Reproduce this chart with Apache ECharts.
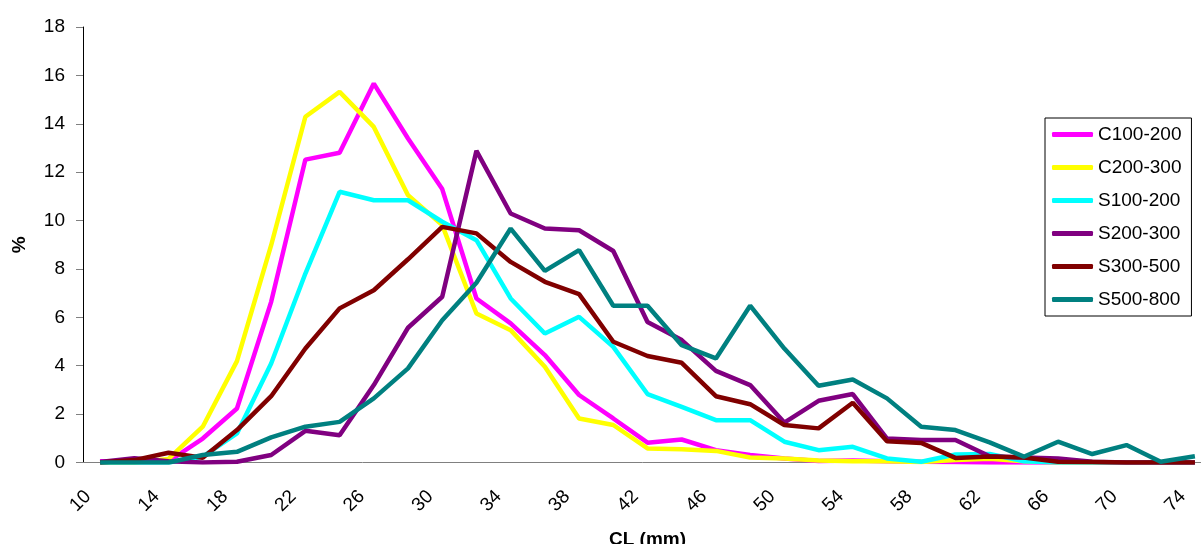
<!DOCTYPE html>
<html>
<head>
<meta charset="utf-8">
<script src="https://cdn.jsdelivr.net/npm/echarts@6/dist/echarts.min.js"></script>
<style>
  html, body { margin: 0; padding: 0; background: #fff; }
  #chart { width: 1201px; height: 544px; }
</style>
</head>
<body>
<div id="chart"></div>
<script>
// CL classes (mm)
var sizes = [10, 12, 14, 16, 18, 20, 22, 24, 26, 28, 30, 32, 34, 36, 38, 40, 42,
             44, 46, 48, 50, 52, 54, 56, 58, 60, 62, 64, 66, 68, 70, 72, 74];

var c100_200 = [0.05, 0.05, 0.05, 0.99, 2.23, 6.64, 12.52, 12.8, 15.66, 13.39, 11.3, 6.78, 5.75, 4.44, 2.79, 1.82, 0.82,
                0.95, 0.51, 0.31, 0.17, 0.06, 0.08, 0.05, 0.03, 0.02, 0, 0, 0, 0, 0, 0, 0];
var c200_300 = [0, 0, 0.15, 1.48, 4.19, 8.98, 14.29, 15.32, 13.87, 11.05, 9.81, 6.16, 5.47, 3.96, 1.82, 1.55, 0.58,
                0.55, 0.48, 0.21, 0.17, 0.08, 0.05, 0.05, 0.02, 0.1, 0.15, 0.05, 0, 0, 0, 0, 0];
var s100_200 = [0, 0, 0, 0.24, 1.2, 4.09, 7.81, 11.19, 10.84, 10.84, 9.95, 9.19, 6.78, 5.33, 6.02, 4.78, 2.83,
                2.3, 1.75, 1.75, 0.86, 0.51, 0.65, 0.17, 0.03, 0.33, 0.35, 0.05, 0, 0, 0, 0, 0];
var s200_300 = [0.02, 0.18, 0.05, 0, 0.03, 0.31, 1.31, 1.13, 3.2, 5.57, 6.85, 12.88, 10.29, 9.67, 9.6, 8.74, 5.81,
                5.06, 3.79, 3.2, 1.65, 2.55, 2.83, 0.99, 0.93, 0.93, 0.26, 0.21, 0.17, 0.03, 0, 0, 0];
var s300_500 = [0, 0.1, 0.4, 0.2, 1.34, 2.74, 4.71, 6.37, 7.12, 8.4, 9.74, 9.47, 8.29, 7.47, 6.96, 4.99, 4.4,
                4.12, 2.74, 2.41, 1.55, 1.41, 2.47, 0.88, 0.81, 0.19, 0.25, 0.21, 0.03, 0.02, 0, 0, 0];
var s500_800 = [0, 0, 0, 0.31, 0.44, 1.04, 1.48, 1.68, 2.65, 3.89, 5.88, 7.43, 9.67, 7.92, 8.78, 6.48, 6.48,
                4.85, 4.3, 6.48, 4.71, 3.17, 3.43, 2.65, 1.48, 1.34, 0.83, 0.24, 0.86, 0.35, 0.72, 0.03, 0.26];

var names = ['C100-200', 'C200-300', 'S100-200', 'S200-300', 'S300-500', 'S500-800'];
var values = [c100_200, c200_300, s100_200, s200_300, s300_500, s500_800];
var colors = ['#ff00ff', '#ffff00', '#00ffff', '#800080', '#800000', '#008080'];

var font = 'Arial, "Liberation Sans", sans-serif';

var chart = echarts.init(document.getElementById('chart'));

var series = names.map(function (n, i) {
  return {
    name: n,
    type: 'line',
    data: values[i],
    symbol: 'none',
    lineStyle: { width: 4.5, color: colors[i] },
    itemStyle: { color: colors[i] }
  };
});

chart.setOption({
  backgroundColor: '#fff',
  animation: false,
  textStyle: { fontFamily: font },
  // plot area runs a bit past the right edge, like the cropped original
  grid: { left: 83, top: 27, width: 1129, height: 435.5, outerBoundsMode: 'none', containLabel: false },
  legend: {
    orient: 'vertical',
    left: 1045,
    top: 118,
    padding: [7, 10, 7, 7],
    itemGap: 14,
    itemWidth: 41,
    itemHeight: 5,
    icon: 'roundRect',
    borderColor: '#000',
    borderWidth: 1,
    backgroundColor: '#fff',
    textStyle: { fontSize: 19, lineHeight: 19, color: '#000', fontFamily: font },
    data: names
  },
  xAxis: {
    type: 'category',
    data: sizes,
    boundaryGap: true,
    name: 'CL (mm)',
    nameLocation: 'middle',
    nameGap: 68,
    nameTextStyle: { fontSize: 19, fontWeight: 'bold', color: '#000', fontFamily: font },
    axisLine: { lineStyle: { color: '#808080', width: 1 } },
    axisTick: { interval: 0, length: 7, lineStyle: { color: '#808080' } },
    axisLabel: {
      interval: 1,
      rotate: 45,
      margin: 19,
      padding: [0, 17, 0, 0],
      fontSize: 19,
      color: '#000',
      fontFamily: font
    },
    splitLine: { show: false }
  },
  yAxis: {
    type: 'value',
    min: 0,
    max: 18,
    interval: 2,
    name: '%',
    nameLocation: 'middle',
    nameGap: 54,
    nameRotate: 90,
    nameTextStyle: { fontSize: 19, fontWeight: 'bold', color: '#000', fontFamily: font },
    axisLine: { show: true, lineStyle: { color: '#000', width: 1 } },
    axisTick: { show: true, length: 7, lineStyle: { color: '#808080' } },
    axisLabel: { margin: 18, fontSize: 19, color: '#000', fontFamily: font },
    splitLine: { show: false }
  },
  series: series
});
</script>
</body>
</html>
